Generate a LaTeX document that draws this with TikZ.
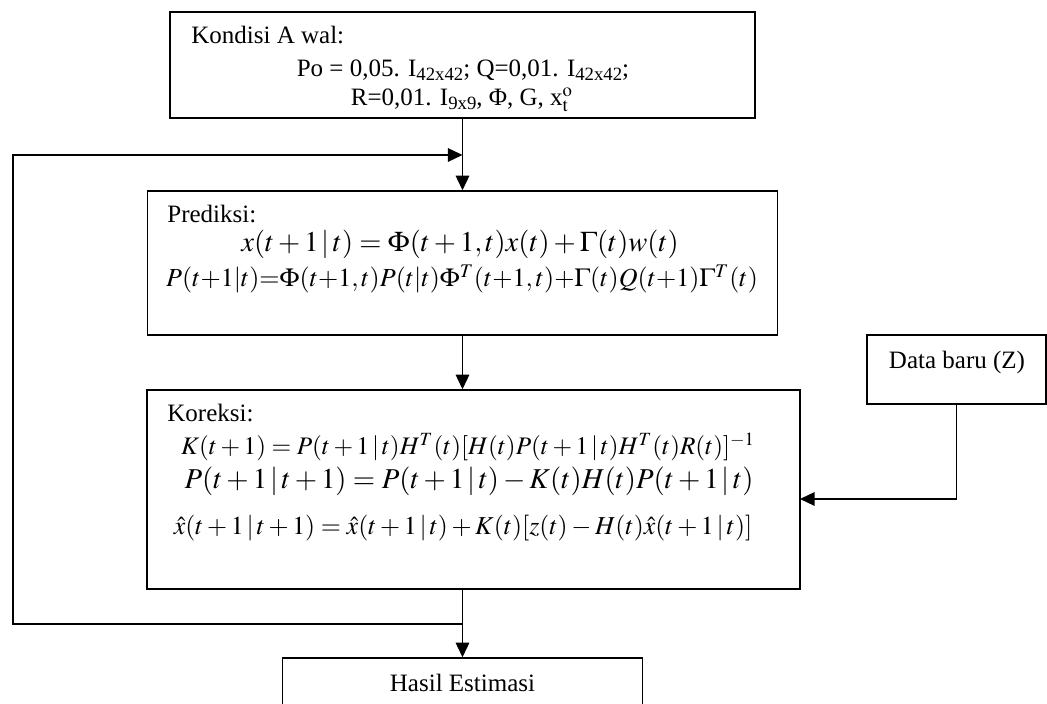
\documentclass[tikz,border=0pt]{standalone}
\usepackage{mathptmx}
\usepackage[no-math]{fontspec}
\setmainfont{Liberation Serif}
\usetikzlibrary{arrows.meta}

\tikzset{
	kotak/.style={draw, line width=0.7pt, inner sep=0pt},
	judul/.style={anchor=west, inner sep=0pt},
	rumus/.style={inner sep=0pt},
	panah/.style={line width=0.7pt, -{Triangle[length=7pt,width=6.5pt]}},
	garis/.style={line width=0.7pt}
}
\newcommand{\sub}[1]{\raisebox{-0.35ex}{\fontsize{9}{9}\selectfont #1}}

\begin{document}
\begin{tikzpicture}[x=0.48pt, y=-0.48pt, font=\fontsize{12}{14}\selectfont]
	\clip (0,0) rectangle (1047,704);
	% kotak
	\node (Awal) at (462.5,65) [kotak, minimum width=585*0.48pt, minimum height=106*0.48pt] {};
	\node (Prediksi) at (462.5,263) [kotak, minimum width=630*0.48pt, minimum height=144*0.48pt] {};
	\node (Koreksi) at (473.5,489.5) [kotak, minimum width=653*0.48pt, minimum height=199*0.48pt] {};
	\node (DataBaru) at (956.5,369.5) [kotak, minimum width=179*0.48pt, minimum height=69*0.48pt] {};
	\node (Hasil) at (462.5,694) [kotak, minimum width=360*0.48pt, minimum height=72*0.48pt] {};
	% isi kondisi awal
	\node (tAwal) at (191,35) [judul] {Kondisi A wal:};
	\node (tAwal1) at (463,70) [rumus] {Po = 0,05. I\sub{42x42}; Q=0,01. I\sub{42x42};};
	\node (tAwal2) at (462,100) [rumus] {R=0,01. I\sub{9x9}, Φ, G, x$^{\mathrm{o}}_{\mathrm{t}}$};
	% isi prediksi
	\node (tPred) at (167,214) [judul] {Prediksi:};
	\node (tPred1) at (460,244) [rumus] {\fontsize{13.7}{16}\selectfont $x(t+1\,|\,t)=\Phi(t+1,t)x(t)+\Gamma(t)w(t)$};
	\node (tPred2) at (462,279) [rumus] {\fontsize{12.5}{15}\selectfont $P(t{+}1|t){=}\Phi(t{+}1,t)P(t|t)\Phi^T(t{+}1,t){+}\Gamma(t)Q(t{+}1)\Gamma^T(t)$};
	% isi koreksi
	\node (tKor) at (167,413) [judul] {Koreksi:};
	\node (tKor1) at (468,447) [rumus] {\fontsize{12.1}{15}\selectfont $K(t+1)=P(t+1\,|\,t)H^T(t)[H(t)P(t+1\,|\,t)H^T(t)R(t)]^{-1}$};
	\node (tKor2) at (469,481) [rumus] {\fontsize{13.8}{16}\selectfont $P(t+1\,|\,t+1)=P(t+1\,|\,t)-K(t)H(t)P(t+1\,|\,t)$};
	\node (tKor3) at (463,528) [rumus] {\fontsize{12.4}{15}\selectfont $\hat{x}(t+1\,|\,t+1)=\hat{x}(t+1\,|\,t)+K(t)[z(t)-H(t)\hat{x}(t+1\,|\,t)]$};
	% teks lain
	\node (tData) at (957,362) [rumus] {Data baru (Z)};
	\node (tHasil) at (462.5,683) [rumus] {Hasil Estimasi};
	% titik bantu
	\coordinate (LoopBawah) at (462.5,624);
	\coordinate (LoopKiri) at (13,624);
	\coordinate (LoopMasuk) at (462.5,155);
	\coordinate (DataMasuk) at (800,499);
	% panah
	\draw[panah] (Awal.south) -- (Prediksi.north);
	\draw[panah] (Prediksi.south) -- (Prediksi.south |- Koreksi.north);
	\draw[panah] (Hasil.north |- Koreksi.south) -- (Hasil.north);
	\draw[panah] (LoopBawah) -- (LoopKiri) |- (LoopMasuk);
	\draw[panah] (DataBaru.south) |- (DataMasuk);
\end{tikzpicture}
\end{document}
